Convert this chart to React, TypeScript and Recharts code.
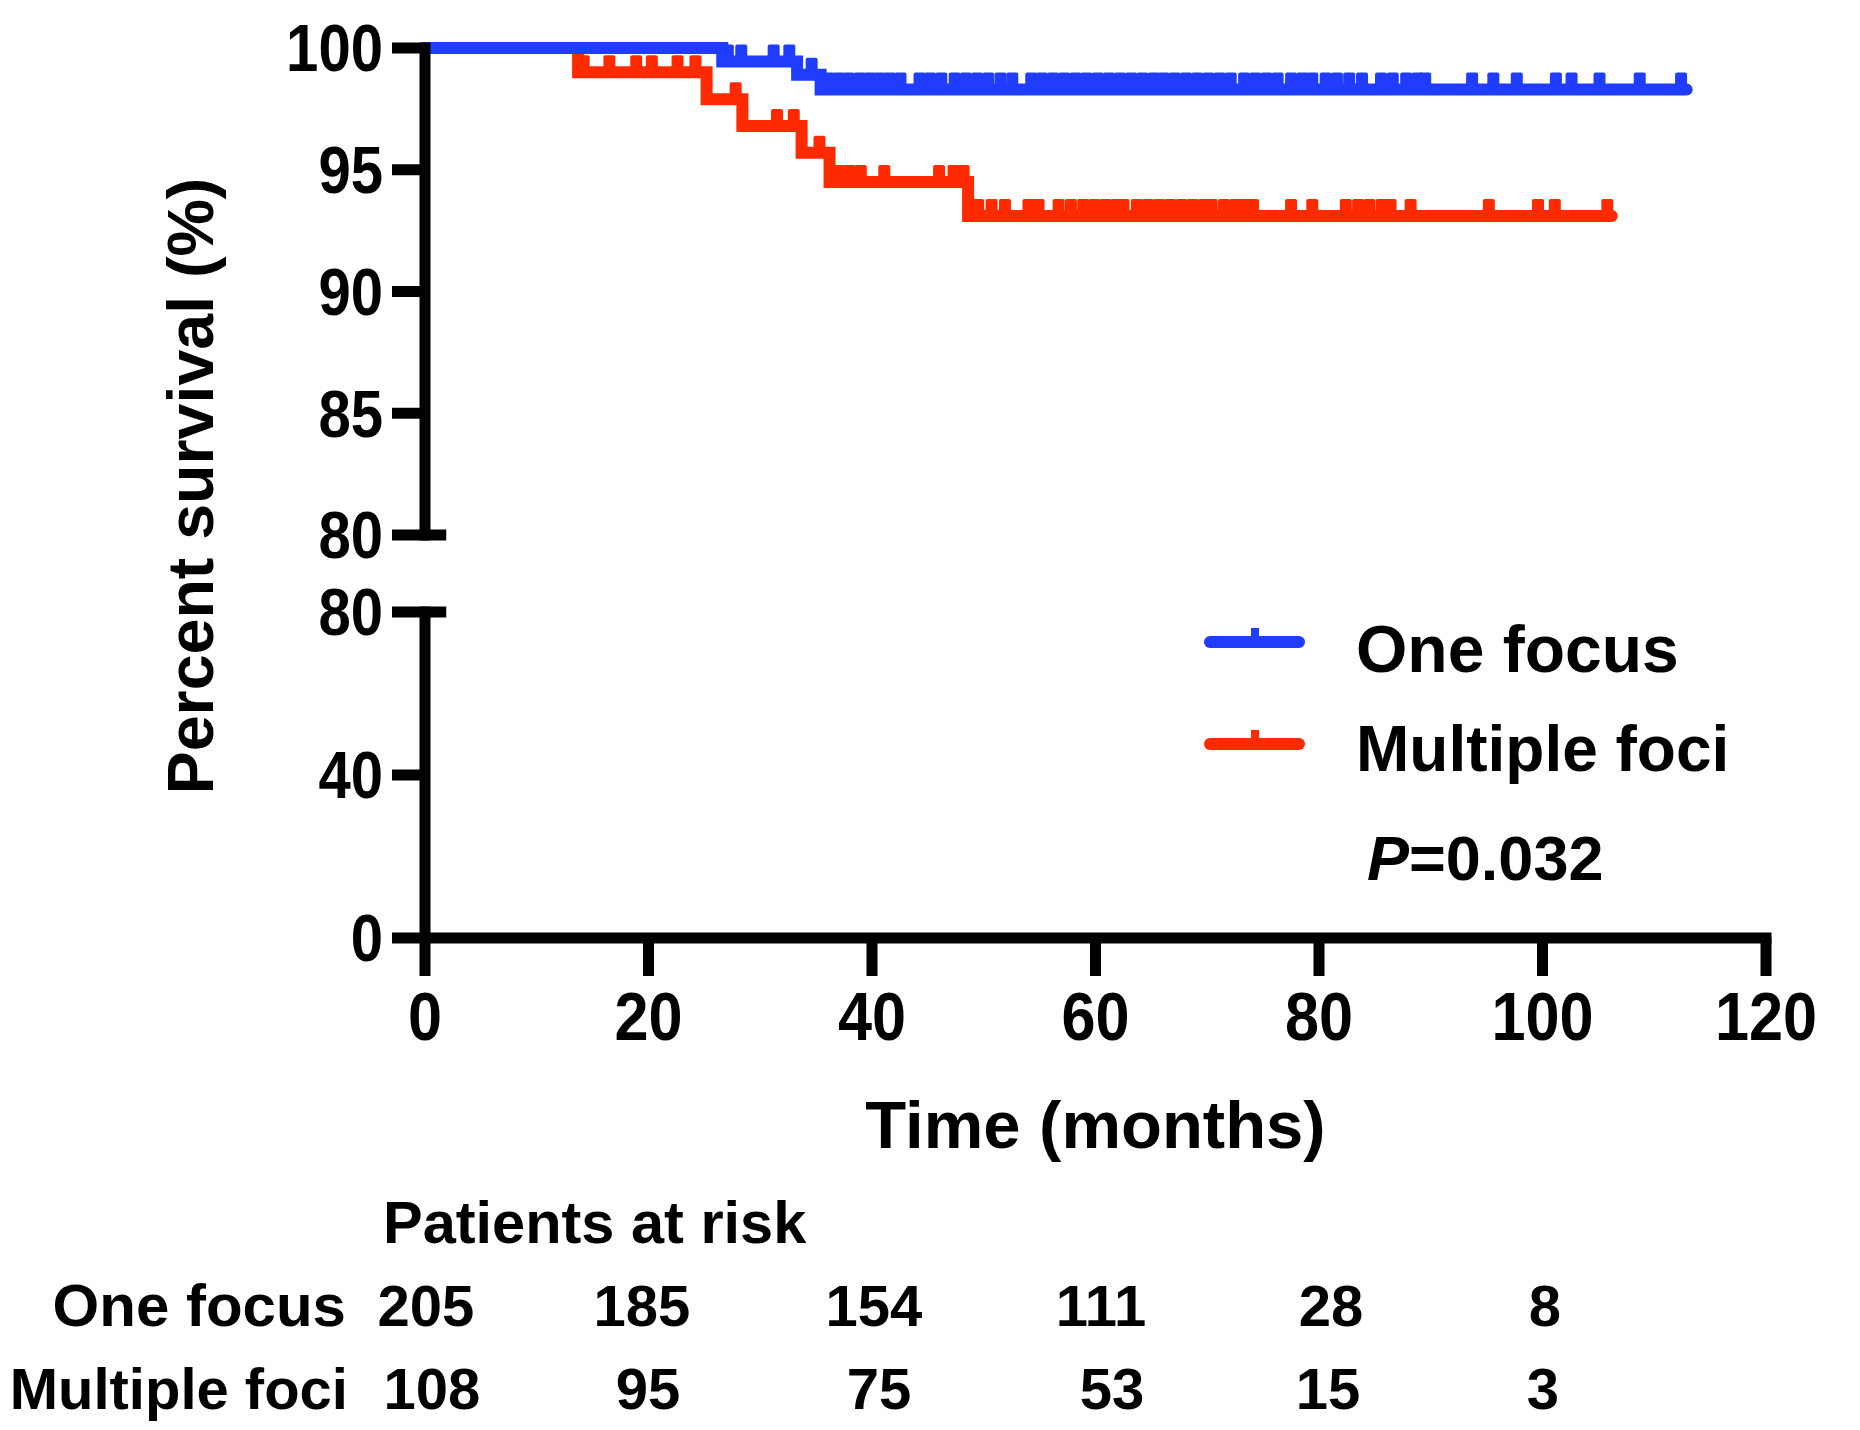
import React from "react";
import { ComposedChart, Line, Scatter, XAxis, YAxis, ReferenceLine } from "recharts";

const BLUE = "#1f3cff";
const RED = "#ff2a00";
const FONT = '"Liberation Sans", Arial, Helvetica, sans-serif';

// axis ticks
const monthTicks = [0, 20, 40, 60, 80, 100, 120];
const upperTicks = [80, 85, 90, 95, 100];
const lowerTicks = [0, 40, 80];

// Kaplan-Meier steps (time in months, survival in %)
const oneFocusSteps = [
  { t: 0, s: 100 },
  { t: 26.6, s: 99.45 },
  { t: 33.3, s: 98.9 },
  { t: 35.4, s: 98.3 },
  { t: 112.9, s: 98.3 },
];
const multipleFociSteps = [
  { t: 0, s: 100 },
  { t: 13.7, s: 99.0 },
  { t: 25.2, s: 97.9 },
  { t: 28.4, s: 96.8 },
  { t: 33.7, s: 95.7 },
  { t: 36.2, s: 94.5 },
  { t: 48.6, s: 93.1 },
  { t: 106.2, s: 93.1 },
];

// censored observations (months)
const oneFocusCensored = [
  27.1, 28.3, 31.2, 32.6, 34.6,
  36.1, 37.0, 37.9, 38.9, 39.8, 40.7, 41.6, 42.55,
  44.25, 45.2, 46.2, 47.4, 48.4, 49.4, 50.4, 51.5, 52.55,
  54.25, 55.2, 56.2, 57.2, 58.2, 59.2, 60.2, 61.2, 62.2, 63.2, 64.2, 65.2, 66.1,
  67.1, 68.1, 69.1, 70.1, 71.1, 72.1, 73.3, 74.3, 75.3, 76.3, 77.5, 78.5, 79.4,
  80.6, 81.6, 82.7, 83.85, 85.55, 86.6, 87.8, 88.8, 89.5,
  93.7, 95.6, 97.7, 101.2, 102.6, 105.1, 108.7, 112.4,
];
const multipleFociCensored = [
  14.2, 16.5, 18.9, 20.3, 22.6, 24.2, 27.8, 31.5, 33.0, 35.3,
  37.1, 38.0, 39.0, 41.1, 46.0, 47.3, 48.2,
  49.5, 50.7, 51.9, 54.0, 54.9, 56.7, 57.8, 58.9, 59.9, 60.9, 61.9, 62.5, 63.7,
  64.7, 65.7, 66.7, 67.7, 68.7, 69.7, 70.4, 71.5, 72.5, 73.3, 74.1,
  77.5, 79.4, 82.4, 83.5, 84.5, 85.6, 86.4, 88.2, 95.2, 99.6, 101.1, 105.8,
];

// patients at risk table
const groupNames = ["One focus", "Multiple foci"];
const oneFocusAtRisk = [205, 185, 154, 111, 28, 8];
const multipleFociAtRisk = [108, 95, 75, 53, 15, 3];

type Step = { t: number; s: number };

function levelAt(steps: Step[], t: number) {
  let s = steps[0].s;
  for (const p of steps) if (p.t <= t) s = p.s;
  return s;
}

const oneFocusMarks = oneFocusCensored.map(t => ({ t, s: levelAt(oneFocusSteps, t) }));
const multipleFociMarks = multipleFociCensored.map(t => ({ t, s: levelAt(multipleFociSteps, t) }));

const axisStyle = { stroke: "#000", strokeWidth: 11, strokeLinecap: "square" as const };
const tickStyle = { stroke: "#000", strokeWidth: 11 };

const CensorMark = (props: any) => {
  const { cx, cy, fill } = props;
  if (cx == null || cy == null) return null;
  return <rect x={cx - 6} y={cy - 17} width={12} height={17} rx={2} fill={fill} />;
};

const YTick = (props: any) => {
  const { x, y, payload } = props;
  return (
    <text
      x={x}
      y={y}
      dy="0.355em"
      textAnchor="end"
      fontFamily={FONT}
      fontWeight={700}
      fontSize={66}
      fill="#000"
      transform={`translate(${x} ${y}) scale(0.88 1) translate(${-x} ${-y})`}
    >
      {payload.value}
    </text>
  );
};

const XTick = (props: any) => {
  const { x, y, payload } = props;
  return (
    <text
      x={x}
      y={y}
      dy="0.71em"
      textAnchor="middle"
      fontFamily={FONT}
      fontWeight={700}
      fontSize={68}
      fill="#000"
      transform={`translate(${x} ${y}) scale(0.9 1) translate(${-x} ${-y})`}
    >
      {payload.value}
    </text>
  );
};

function Curves() {
  return [
    <Line key="mf" data={multipleFociSteps} dataKey="s" type="stepAfter" stroke={RED} strokeWidth={12}
      strokeLinecap="round" dot={false} activeDot={false} isAnimationActive={false} />,
    <Scatter key="mfc" data={multipleFociMarks} dataKey="s" fill={RED} shape={CensorMark} isAnimationActive={false} />,
    <Line key="of" data={oneFocusSteps} dataKey="s" type="stepAfter" stroke={BLUE} strokeWidth={12}
      strokeLinecap="round" dot={false} activeDot={false} isAnimationActive={false} />,
    <Scatter key="ofc" data={oneFocusMarks} dataKey="s" fill={BLUE} shape={CensorMark} isAnimationActive={false} />,
  ];
}

export default function App() {
  const txt = { fontFamily: FONT, fontWeight: 700, fill: "#000" };
  const colX1 = [426, 642, 874, 1101, 1331, 1545];
  const colX2 = [432, 648, 879, 1112, 1328, 1543];
  return (
    <div style={{ position: "absolute", left: 0, top: 0, width: 1860, height: 1430, background: "#fff", overflow: "hidden" }}>
      {/* upper panel: 80-100 % */}
      <div style={{ position: "absolute", left: 0, top: 0 }}>
        <ComposedChart width={1860} height={585} margin={{ top: 48, right: 94, bottom: 50, left: 0 }}>
          <XAxis type="number" dataKey="t" domain={[0, 120]} ticks={monthTicks} hide />
          <YAxis type="number" dataKey="s" domain={[80, 100]} ticks={upperTicks} interval={0}
            width={425} tickSize={33} tickMargin={9} axisLine={axisStyle} tickLine={tickStyle}
            tick={(p: any) => <YTick {...p} />} />
          <ReferenceLine segment={[{ x: 0, y: 80 }, { x: 1.9, y: 80 }]} stroke="#000" strokeWidth={11} ifOverflow="visible" />
          {Curves()}
        </ComposedChart>
      </div>

      {/* lower panel: 0-80 % with time axis */}
      <div style={{ position: "absolute", left: 0, top: 560 }}>
        <ComposedChart width={1860} height={870} margin={{ top: 52, right: 94, bottom: 270, left: 0 }}>
          <XAxis type="number" dataKey="t" domain={[0, 120]} ticks={monthTicks} interval={0}
            height={222} tickSize={38} tickMargin={16} axisLine={axisStyle} tickLine={tickStyle}
            tick={(p: any) => <XTick {...p} />}
            label={{ value: "Time (months)", position: "insideBottom", offset: 12,
              style: { fontFamily: FONT, fontWeight: 700, fontSize: 67, fill: "#000" } }} />
          <YAxis type="number" dataKey="s" domain={[0, 80]} ticks={lowerTicks} interval={0} allowDataOverflow
            width={425} tickSize={33} tickMargin={9} axisLine={axisStyle} tickLine={tickStyle}
            tick={(p: any) => <YTick {...p} />} />
          <ReferenceLine segment={[{ x: 0, y: 80 }, { x: 1.9, y: 80 }]} stroke="#000" strokeWidth={11} ifOverflow="visible" />
          {Curves()}
        </ComposedChart>
      </div>

      {/* labels, legend, risk table */}
      <svg width={1860} height={1430} style={{ position: "absolute", left: 0, top: 0, pointerEvents: "none" }}>
        <text {...txt} x={213} y={486} fontSize={64.5} textAnchor="middle" transform="rotate(-90 213 486)">
          Percent survival (%)
        </text>

        <line x1={1210} y1={642} x2={1299} y2={642} stroke={BLUE} strokeWidth={12} strokeLinecap="round" />
        <rect x={1251} y={628} width={8} height={14} fill={BLUE} />
        <text {...txt} x={1356} y={672} fontSize={66}>{groupNames[0]}</text>

        <line x1={1210} y1={744} x2={1299} y2={744} stroke={RED} strokeWidth={12} strokeLinecap="round" />
        <rect x={1251} y={730} width={8} height={14} fill={RED} />
        <text {...txt} x={1356} y={771} fontSize={64}>{groupNames[1]}</text>

        <text {...txt} x={1367} y={880} fontSize={63}>
          <tspan fontStyle="italic">P</tspan>=0.032
        </text>

        <text {...txt} x={383} y={1243} fontSize={59.5}>Patients at risk</text>
        <text {...txt} x={346} y={1326} fontSize={60} textAnchor="end">{groupNames[0]}</text>
        <text {...txt} x={348} y={1409} fontSize={58} textAnchor="end">{groupNames[1]}</text>
        {oneFocusAtRisk.map((n, i) => (
          <text key={"a" + i} {...txt} x={colX1[i]} y={1326} fontSize={58} textAnchor="middle">{n}</text>
        ))}
        {multipleFociAtRisk.map((n, i) => (
          <text key={"b" + i} {...txt} x={colX2[i]} y={1409} fontSize={58} textAnchor="middle">{n}</text>
        ))}
      </svg>
    </div>
  );
}
